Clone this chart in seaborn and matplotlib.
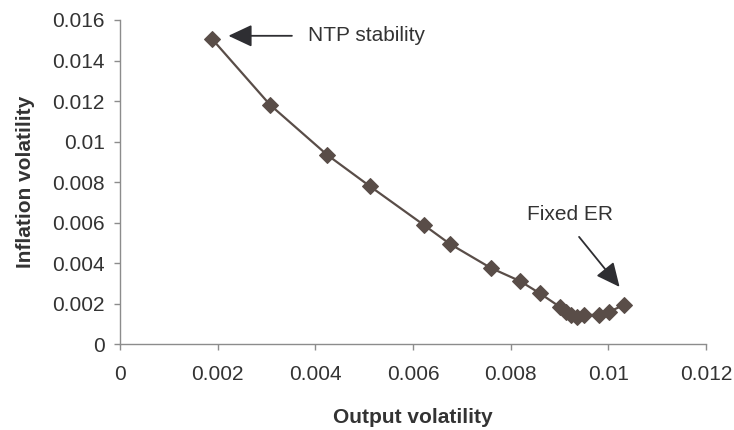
import matplotlib
matplotlib.use("Agg")
import matplotlib.pyplot as plt
import seaborn as sns
import pandas as pd

# Data
output_vol = [0.00189, 0.00307, 0.00424, 0.00511, 0.00622, 0.00675, 0.00759, 0.00819,
              0.00860, 0.00901, 0.00914, 0.00924, 0.00936, 0.00950, 0.00980, 0.01002, 0.01032]
inflation_vol = [0.01505, 0.01182, 0.00935, 0.00781, 0.00589, 0.00496, 0.00377, 0.00312,
                 0.00251, 0.00184, 0.00161, 0.00145, 0.00136, 0.00145, 0.00145, 0.00161, 0.00194]

x_ticks = [0, 0.002, 0.004, 0.006, 0.008, 0.01, 0.012]
x_tick_labels = ["0", "0.002", "0.004", "0.006", "0.008", "0.01", "0.012"]
y_ticks = [0, 0.002, 0.004, 0.006, 0.008, 0.01, 0.012, 0.014, 0.016]
y_tick_labels = ["0", "0.002", "0.004", "0.006", "0.008", "0.01", "0.012", "0.014", "0.016"]

# annotation anchors (data coordinates)
ntp_text = (0.00384, 0.01522)
ntp_tail = (0.00352, 0.01522)
ntp_tip = (0.00222, 0.01522)
fixed_text = (0.00922, 0.00639)
fixed_tail = (0.00940, 0.00530)
fixed_tip = (0.01023, 0.00283)

df = pd.DataFrame({"Output volatility": output_vol, "Inflation volatility": inflation_vol})

sns.set_style("white")
plt.rcParams["font.family"] = ["Liberation Sans", "DejaVu Sans"]

fig = plt.figure(figsize=(7.34, 4.30), dpi=100)
ax = fig.add_axes([0.1635, 0.1993, 0.7984, 0.7542])

line_color = "#594d48"
sns.lineplot(data=df, x="Output volatility", y="Inflation volatility", sort=False,
             color=line_color, linewidth=1.6, marker="D", markersize=8.5,
             markerfacecolor=line_color, markeredgecolor=line_color, ax=ax)

ax.set_xlim(0, 0.012)
ax.set_ylim(0, 0.016)
ax.set_xticks(x_ticks)
ax.set_xticklabels(x_tick_labels)
ax.set_yticks(y_ticks)
ax.set_yticklabels(y_tick_labels)

for s in ["top", "right"]:
    ax.spines[s].set_visible(False)
for s in ["left", "bottom"]:
    ax.spines[s].set_color("#8c8c8c")
    ax.spines[s].set_linewidth(1.0)

ax.tick_params(axis="both", which="major", direction="out", length=4, width=1.0,
               color="#8c8c8c", labelsize=15, labelcolor="#333333")
ax.tick_params(axis="x", pad=11, bottom=True)
ax.tick_params(axis="y", pad=7, left=True)

ax.set_xlabel("Output volatility", fontsize=15, fontweight="bold", color="#333333", labelpad=17)
ax.set_ylabel("Inflation volatility", fontsize=15, fontweight="bold", color="#333333", labelpad=12)

arrow_color = "#2e2e32"
arrow_style = "-|>,head_length=1.45,head_width=0.68"
ax.annotate("", xy=ntp_tip, xytext=ntp_tail,
            arrowprops=dict(arrowstyle=arrow_style, color=arrow_color, lw=1.3,
                            shrinkA=0, shrinkB=0))
ax.text(ntp_text[0], ntp_text[1], "NTP stability", fontsize=15, color="#333333",
        ha="left", va="center")

ax.annotate("", xy=fixed_tip, xytext=fixed_tail,
            arrowprops=dict(arrowstyle=arrow_style, color=arrow_color, lw=1.3,
                            shrinkA=0, shrinkB=0))
ax.text(fixed_text[0], fixed_text[1], "Fixed ER", fontsize=15, color="#333333",
        ha="center", va="center")

fig.savefig("out.png", dpi=100)
